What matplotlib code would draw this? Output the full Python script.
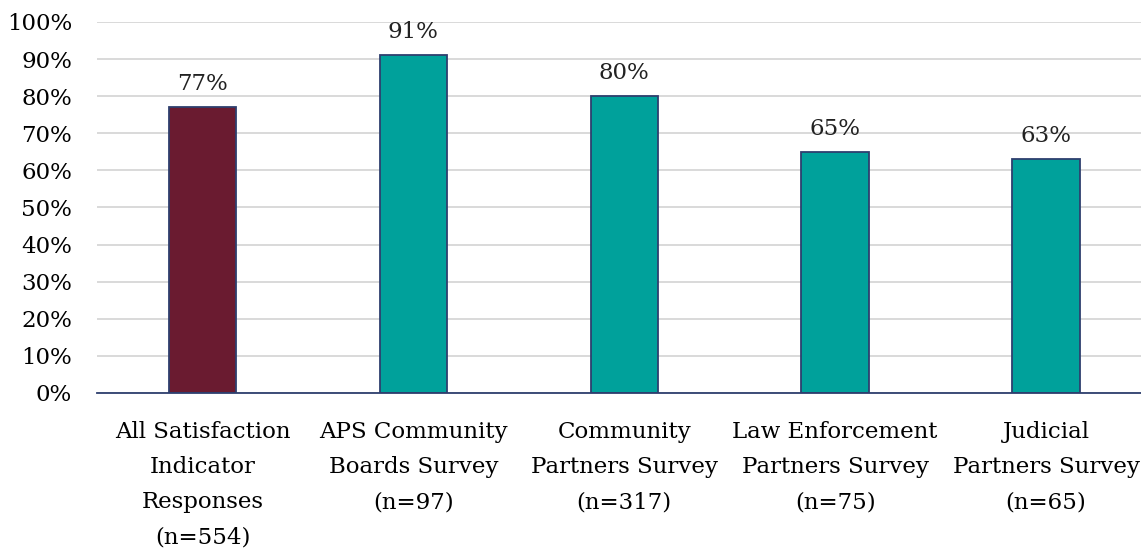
import numpy as np
import matplotlib
matplotlib.use("Agg")
import matplotlib.pyplot as plt
from matplotlib.ticker import PercentFormatter

categories = ["All Satisfaction\nIndicator\nResponses\n(n=554)",
              "APS Community\nBoards Survey\n(n=97)",
              "Community\nPartners Survey\n(n=317)",
              "Law Enforcement\nPartners Survey\n(n=75)",
              "Judicial\nPartners Survey\n(n=65)"]
values = [77, 91, 80, 65, 63]
colors = ["#6A1B30", "#00A19B", "#00A19B", "#00A19B", "#00A19B"]

plt.rcParams['font.family'] = ['DejaVu Serif']

fig = plt.figure(figsize=(11.41, 5.5), dpi=100)
ax = fig.add_axes([0.085, 0.2855, 0.915, 0.6745])

x = np.arange(len(values))
bars = ax.bar(x, values, width=0.32, color=colors, edgecolor="#2E3F6E", linewidth=1.3, zorder=3)

# value labels above bars
for xi, v in zip(x, values):
    ax.text(xi, v + 3.3, f"{v}%", ha="center", va="bottom", fontsize=16.5, color="#222222")

ax.set_ylim(0, 100)
ax.set_xlim(-0.5, 4.45)
ax.set_yticks(np.arange(0, 101, 10))
ax.yaxis.set_major_formatter(PercentFormatter(decimals=0))
ax.set_xticks(x)
ax.set_xticklabels(categories, fontsize=16.5, linespacing=1.76)
ax.tick_params(axis="y", labelsize=16.5, length=0, pad=18)
ax.tick_params(axis="x", length=0, pad=20.5)
ax.grid(axis="y", color="#D3D3D3", linewidth=1.2, zorder=0)

for side in ["top", "right", "left"]:
    ax.spines[side].set_visible(False)
ax.spines["bottom"].set_color("#2E3F6E")
ax.spines["bottom"].set_linewidth(1.3)
ax.spines["bottom"].set_zorder(4)

fig.savefig("out.png", dpi=100)
